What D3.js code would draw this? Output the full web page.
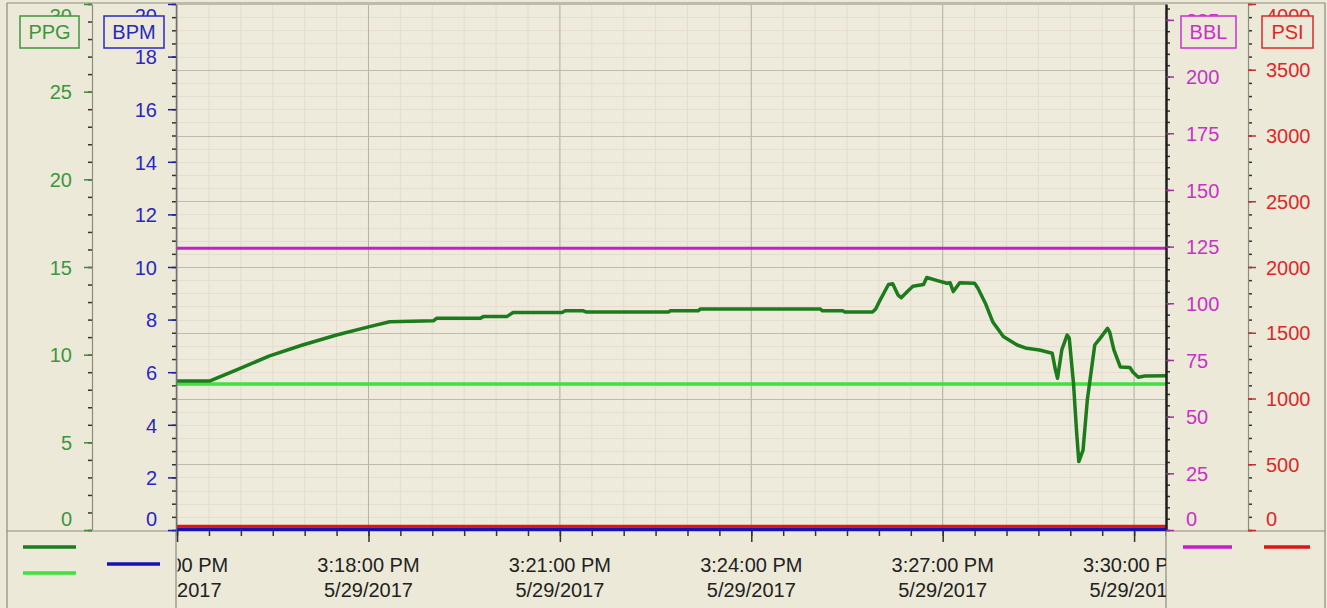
<!DOCTYPE html>
<html>
<head>
<meta charset="utf-8">
<script src="https://cdn.jsdelivr.net/npm/d3@7"></script>
<style>
  body { margin: 0; background: #ece9d8; }
  text { font-family: "Liberation Sans", Arial, sans-serif; }
</style>
</head>
<body>
<div id="chart"></div>
<script>
// density trace (PPG)
var densityTimes = ["15:15:00","15:15:31","15:15:56","15:16:27","15:16:58","15:17:30","15:18:01","15:18:20",
    "15:19:01","15:19:04","15:19:45","15:19:48","15:20:10","15:20:16","15:21:02","15:21:05","15:21:22",
    "15:21:25","15:22:42","15:22:44","15:23:10","15:23:12","15:25:05","15:25:07","15:25:26","15:25:28",
    "15:25:54","15:25:57","15:26:01","15:26:09","15:26:13","15:26:18","15:26:21","15:26:28","15:26:32",
    "15:26:42","15:26:45","15:26:55","15:27:04","15:27:07","15:27:10","15:27:16","15:27:30","15:27:33",
    "15:27:40","15:27:47","15:27:57","15:28:10","15:28:19","15:28:31","15:28:43","15:28:46","15:28:48",
    "15:28:52","15:28:57","15:28:59","15:29:03","15:29:06","15:29:08","15:29:12","15:29:16","15:29:23",
    "15:29:28","15:29:35","15:29:37","15:29:41","15:29:47","15:29:56","15:29:59","15:30:04","15:30:10","15:30:30"];
var densityPPG = [8.50,8.50,9.13,9.93,10.55,11.12,11.60,11.88,
    11.93,12.07,12.07,12.17,12.17,12.40,12.40,12.50,12.50,
    12.43,12.43,12.50,12.50,12.60,12.60,12.50,12.50,12.43,
    12.43,12.60,13.10,14.00,14.05,13.40,13.25,13.67,13.90,
    14.00,14.40,14.22,14.07,14.10,13.60,14.10,14.07,13.80,
    12.95,11.88,11.03,10.55,10.36,10.27,10.08,9.13,8.65,
    10.27,11.12,10.95,8.37,5.52,3.90,4.56,7.41,10.55,
    10.93,11.50,11.30,10.27,9.30,9.27,9.00,8.71,8.78,8.80];

// flat traces
var flatTimes = ["15:14:59", "15:30:30"];
var waterPPG = [8.33, 8.33];
var volumeBBL = [124.3, 124.3];
var rateBPM = [0.03, 0.03];
var pressurePSI = [30, 30];

// axes
var timeDomain = ["15:14:59", "15:30:30"];
var timeTicks = ["15:15:00","15:18:00","15:21:00","15:24:00","15:27:00","15:30:00"];
var ppgTicks = [0, 5, 10, 15, 20, 25, 30];
var bpmTicks = [0, 2, 4, 6, 8, 10, 12, 14, 16, 18, 20];
var bblTicks = [0, 25, 50, 75, 100, 125, 150, 175, 200, 225];
var psiTicks = [0, 500, 1000, 1500, 2000, 2500, 3000, 3500, 4000];

var W = 1327, H = 608;
var plotL = 176, plotR = 1166, plotT = 4, plotB = 530;

var parseTime = d3.timeParse("%H:%M:%S");
function toDate(s) {
    var t = parseTime(s);
    return new Date(2017, 4, 29, t.getHours(), t.getMinutes(), t.getSeconds());
}

var svg = d3.select("#chart")
    .append("svg")
        .attr("width", W)
        .attr("height", H);

var x = d3.scaleTime()
    .domain(timeDomain.map(toDate))
    .range([plotL, plotR]);
var yPPG = d3.scaleLinear().domain([0, 30]).range([plotB, plotT]);
var yBPM = d3.scaleLinear().domain([0, 20]).range([plotB, plotT]);
var yBBL = d3.scaleLinear().domain([0, 232]).range([plotB, plotT]);
var yPSI = d3.scaleLinear().domain([0, 4000]).range([plotB, plotT]);

svg.append("rect")
    .attr("x", 0).attr("y", 0).attr("width", W).attr("height", H)
    .style("fill", "#ece9d8");
svg.append("rect")
    .attr("x", plotL).attr("y", plotT).attr("width", plotR - plotL).attr("height", plotB - plotT)
    .style("fill", "#eeebdc");

var defs = svg.append("defs");
defs.append("clipPath").attr("id", "plotClip")
    .append("rect").attr("x", plotL).attr("y", plotT).attr("width", plotR - plotL).attr("height", plotB - plotT + 1);
defs.append("clipPath").attr("id", "xClip")
    .append("rect").attr("x", plotL - 1).attr("y", plotB).attr("width", plotR - plotL + 1).attr("height", H - plotB);
defs.append("clipPath").attr("id", "xLabelClip")
    .append("rect").attr("x", plotL + 1.5).attr("y", plotB).attr("width", plotR - plotL - 1.5).attr("height", H - plotB);

// grid
var grid = svg.append("g").attr("clip-path", "url(#plotClip)");
grid.selectAll(".vminor")
    .data(x.ticks(d3.timeSecond.every(30)))
    .enter().append("line")
    .attr("x1", d => x(d)).attr("x2", d => x(d))
    .attr("y1", plotT).attr("y2", plotB)
    .style("stroke", "#e2ddcc").style("stroke-width", 1);
grid.selectAll(".hminor")
    .data(d3.range(0, 4001, 100))
    .enter().append("line")
    .attr("x1", plotL).attr("x2", plotR)
    .attr("y1", d => Math.round(yPSI(d)) + 0.5).attr("y2", d => Math.round(yPSI(d)) + 0.5)
    .style("stroke", "#e6dcd0").style("stroke-width", 1);
grid.selectAll(".vmajor")
    .data(timeTicks.map(toDate))
    .enter().append("line")
    .attr("x1", d => x(d)).attr("x2", d => x(d))
    .attr("y1", plotT).attr("y2", plotB)
    .style("stroke", "#b6b2a6").style("stroke-width", 1);
grid.selectAll(".hmajor")
    .data(psiTicks)
    .enter().append("line")
    .attr("x1", plotL).attr("x2", plotR)
    .attr("y1", d => Math.round(yPSI(d)) + 0.5).attr("y2", d => Math.round(yPSI(d)) + 0.5)
    .style("stroke", "#c2b8ae").style("stroke-width", 1);

// frame lines
var frame = svg.append("g").style("stroke", "#8e8c80").style("stroke-width", 1.2);
frame.append("line").attr("x1", 7).attr("x2", 1325).attr("y1", 3).attr("y2", 3);
frame.append("line").attr("x1", 7).attr("x2", 7).attr("y1", 3).attr("y2", H);
frame.append("line").attr("x1", 1325).attr("x2", 1325).attr("y1", 3).attr("y2", H);
frame.append("line").attr("x1", 7).attr("x2", 1325).attr("y1", 531).attr("y2", 531);
frame.append("line").attr("x1", plotL).attr("x2", plotL).attr("y1", 531).attr("y2", H);
frame.append("line").attr("x1", plotR).attr("x2", plotR).attr("y1", 531).attr("y2", H);

// series
var series = svg.append("g").attr("clip-path", "url(#plotClip)");
function drawLine(times, values, y, color, width) {
    var pts = times.map((t, i) => [toDate(t), values[i]]);
    series.append("path")
        .datum(pts)
        .attr("d", d3.line().x(d => x(d[0])).y(d => y(d[1])))
        .style("fill", "none")
        .style("stroke", color)
        .style("stroke-width", width)
        .style("stroke-linejoin", "round");
}
drawLine(flatTimes, rateBPM, yBPM, "#1414b4", 4);
drawLine(flatTimes, pressurePSI, yPSI, "#e01414", 2.5);
drawLine(flatTimes, volumeBBL, yBBL, "#c81ec8", 3);
drawLine(flatTimes, waterPPG, yPPG, "#3fe03f", 3.5);
drawLine(densityTimes, densityPPG, yPPG, "#1c7c1c", 3.5);

// y axes
function clampLabels(g, scale) {
    g.selectAll(".tick text")
        .attr("dy", "0.36em")
        .attr("y", function(d) {
            var p = scale(d);
            return Math.max(15, Math.min(518, p)) - p;
        });
}
function yAxis(axisFn, scale, xPos, majors, minorStep, pad, color, tickColor, lineColor, lineWidth) {
    var minors = d3.range(0, scale.domain()[1] + 0.001, minorStep);
    svg.append("g")
        .attr("transform", "translate(" + xPos + ",0)")
        .call(axisFn(scale).tickValues(minors).tickSize(4).tickSizeOuter(0).tickFormat(""))
        .call(g => g.select(".domain").remove())
        .call(g => g.selectAll(".tick line").style("stroke", "#333").style("stroke-width", 1.5));
    var g = svg.append("g")
        .attr("transform", "translate(" + xPos + ",0)")
        .call(axisFn(scale).tickValues(majors).tickSize(8).tickSizeOuter(0).tickPadding(pad).tickFormat(d3.format("d")));
    g.select(".domain").style("stroke", lineColor).style("stroke-width", lineWidth);
    g.selectAll(".tick line").style("stroke", tickColor).style("stroke-width", 1.5);
    g.selectAll(".tick text")
        .style("font-size", "20px")
        .style("font-family", "'Liberation Sans', Arial, sans-serif")
        .style("fill", color);
    clampLabels(g, scale);
}
yAxis(d3.axisLeft, yPPG, 92, ppgTicks, 1, 12, "#3c963c", "#3c8a3c", "#8e8c80", 1.2);
yAxis(d3.axisLeft, yBPM, 176, bpmTicks, 0.5, 11, "#2828c0", "#2020a0", "#707070", 1.5);
yAxis(d3.axisRight, yBBL, 1166, bblTicks, 5, 12, "#c832c8", "#a030a0", "#1e1e1e", 2.5);
yAxis(d3.axisRight, yPSI, 1248, psiTicks, 100, 10, "#dc2828", "#c03030", "#8e8c80", 1.2);

// x axis
var fmtTime = d3.timeFormat("%-I:%M:%S %p");
var fmtDay = d3.timeFormat("%-m/%-d/%Y");
var xg = svg.append("g").attr("clip-path", "url(#xClip)");
xg.append("g")
    .attr("transform", "translate(0,531)")
    .call(d3.axisBottom(x).ticks(d3.timeSecond.every(30)).tickSize(5).tickSizeOuter(0).tickFormat(""))
    .call(g => g.select(".domain").remove())
    .call(g => g.selectAll(".tick line").style("stroke", "#333").style("stroke-width", 1.5));
var xAxis = xg.append("g")
    .attr("transform", "translate(0,531)")
    .call(d3.axisBottom(x).tickValues(timeTicks.map(toDate)).tickSize(11).tickSizeOuter(0).tickFormat(""));
xAxis.select(".domain").remove();
xAxis.selectAll(".tick line").style("stroke", "#333").style("stroke-width", 1.5);

var xLabels = svg.append("g").attr("clip-path", "url(#xLabelClip)");
xLabels.selectAll("text")
    .data(timeTicks.map(toDate))
    .enter().append("text")
    .attr("transform", d => "translate(" + x(d) + ",531)")
    .style("font-size", "20px")
    .style("fill", "#222")
    .attr("text-anchor", "middle")
    .each(function(d) {
        var t = d3.select(this);
        t.append("tspan").attr("x", 0).attr("y", 41).text(fmtTime(d));
        t.append("tspan").attr("x", 0).attr("y", 66).text(fmtDay(d));
    });

// axis name boxes
var boxes = [
    {name: "PPG", x: 20, w: 59, color: "#3c963c"},
    {name: "BPM", x: 104, w: 60, color: "#2828c0"},
    {name: "BBL", x: 1181, w: 55, color: "#c832c8"},
    {name: "PSI", x: 1262, w: 51, color: "#dc2828"}
];
boxes.forEach(function(b) {
    svg.append("rect")
        .attr("x", b.x).attr("y", 16).attr("width", b.w).attr("height", 32)
        .style("fill", "#ece9d8")
        .style("stroke", b.color)
        .style("stroke-width", 1.5);
    svg.append("text")
        .attr("x", b.x + b.w / 2).attr("y", 32)
        .attr("dy", "0.36em")
        .attr("text-anchor", "middle")
        .style("font-size", "20px")
        .style("fill", b.color)
        .text(b.name);
});

// legend swatches
var swatches = [
    {x1: 23, x2: 76, y: 547, color: "#1c7c1c"},
    {x1: 23, x2: 76, y: 573, color: "#3fe03f"},
    {x1: 107, x2: 160, y: 564, color: "#1414b4"},
    {x1: 1183, x2: 1232, y: 547, color: "#c81ec8"},
    {x1: 1264, x2: 1310, y: 547, color: "#e01414"}
];
svg.selectAll(".swatch")
    .data(swatches)
    .enter().append("line")
    .attr("x1", d => d.x1).attr("x2", d => d.x2)
    .attr("y1", d => d.y).attr("y2", d => d.y)
    .style("stroke", d => d.color)
    .style("stroke-width", 3.5);
</script>
</body>
</html>
